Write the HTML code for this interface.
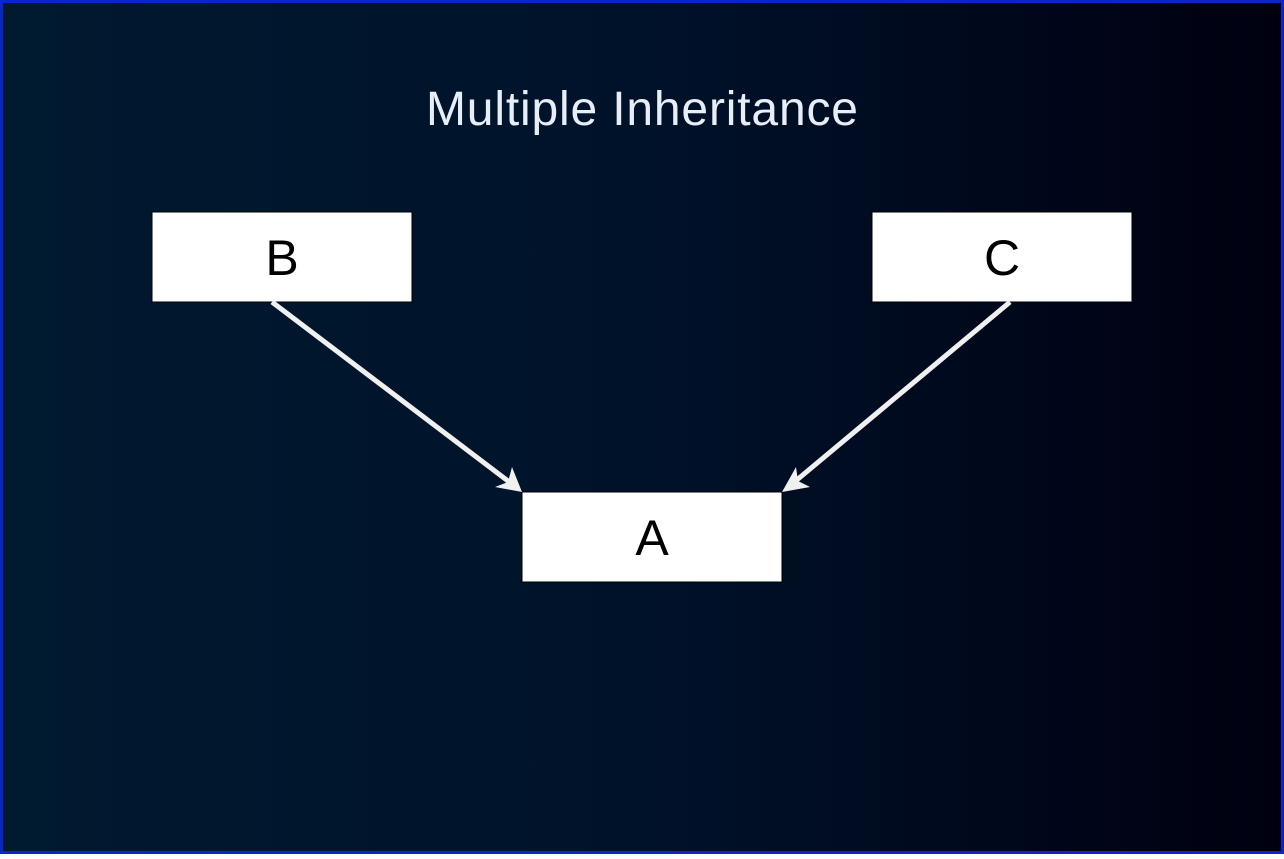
<!DOCTYPE html>
<html><head><meta charset="utf-8"><style>
html,body{margin:0;padding:0;}
body{width:1284px;height:854px;overflow:hidden;}
</style></head><body>
<svg width="1284" height="854" viewBox="0 0 1284 854" xmlns="http://www.w3.org/2000/svg">
<defs>
<linearGradient id="g" x1="0" y1="0" x2="1" y2="0">
<stop offset="0" stop-color="#001a30"/>
<stop offset="0.5" stop-color="#00122a"/>
<stop offset="1" stop-color="#000010"/>
</linearGradient>
</defs>
<rect x="1.5" y="1.5" width="1281" height="851" fill="url(#g)" stroke="#0a26c8" stroke-width="3"/>
<text x="642" y="125" text-anchor="middle" font-family="Liberation Sans, sans-serif" font-size="48" fill="#e8eef8" textLength="432">Multiple Inheritance</text>
<rect x="152" y="212" width="260" height="90" fill="#fff" stroke="#000" stroke-width="1"/>
<text x="282" y="275" text-anchor="middle" font-family="Liberation Sans, sans-serif" font-size="50" fill="#000">B</text>
<rect x="872" y="212" width="260" height="90" fill="#fff" stroke="#000" stroke-width="1"/>
<text x="1002" y="275" text-anchor="middle" font-family="Liberation Sans, sans-serif" font-size="50" fill="#000">C</text>
<rect x="522" y="492" width="260" height="90" fill="#fff" stroke="#000" stroke-width="1"/>
<text x="652" y="555" text-anchor="middle" font-family="Liberation Sans, sans-serif" font-size="50" fill="#000">A</text>
<g stroke="#f0f0f0" stroke-width="5" fill="#f0f0f0">
<line x1="272" y1="302" x2="512" y2="484"/>
<line x1="1010" y1="302" x2="792" y2="484"/>
</g>
<polygon points="522,492 495,487 508,482 512,467" fill="#f0f0f0"/>
<polygon points="782,492 796,467 798,481 810,487" fill="#f0f0f0"/>
</svg>
</body></html>
